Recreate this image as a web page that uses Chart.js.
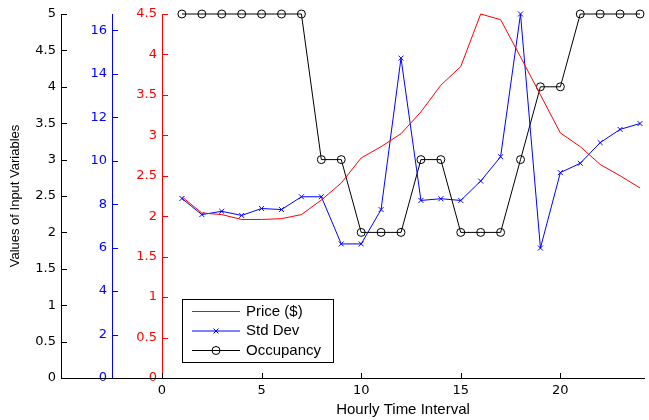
<!DOCTYPE html>
<html>
<head>
<meta charset="utf-8">
<title>Input variables</title>
<script src="https://cdn.jsdelivr.net/npm/chart.js@4.4.0/dist/chart.umd.min.js"></script>
<style>
  body { margin: 0; background: #fff; }
</style>
</head>
<body>
<canvas id="myChart" width="649" height="420"></canvas>
<script>
'use strict';

// data
const hours = [1, 2, 3, 4, 5, 6, 7, 8, 9, 10, 11, 12, 13, 14, 15, 16, 17, 18, 19, 20, 21, 22, 23, 24];
const price = [2.24, 2.04, 2.02, 1.96, 1.96, 1.97, 2.02, 2.2, 2.41, 2.72, 2.86, 3.02, 3.29, 3.62, 3.85, 4.5, 4.43, 3.97, 3.5, 3.03, 2.86, 2.64, 2.5, 2.35];
const stdDev = [8.26, 7.52, 7.67, 7.48, 7.8, 7.75, 8.34, 8.34, 6.17, 6.17, 7.75, 14.72, 8.17, 8.25, 8.17, 9.06, 10.18, 16.75, 5.98, 9.45, 9.88, 10.83, 11.44, 11.71];
const occupancy = [5, 5, 5, 5, 5, 5, 5, 3, 3, 2, 2, 2, 3, 3, 2, 2, 2, 3, 4, 4, 5, 5, 5, 5];

const xTicks = [0, 5, 10, 15, 20];
const occTicks = [0, 0.5, 1, 1.5, 2, 2.5, 3, 3.5, 4, 4.5, 5];
const stdTicks = [0, 2, 4, 6, 8, 10, 12, 14, 16];
const priceTicks = [0, 0.5, 1, 1.5, 2, 2.5, 3, 3.5, 4, 4.5];

const RED = '#ff0000';
const BLUE = '#0000ff';
const tickFont = { family: 'DejaVu Sans', size: 13 };

function points(values) {
  return values.map((v, i) => ({ x: hours[i], y: v }));
}

function fixedTicks(list) {
  return function (s) {
    s.ticks = list.map(v => ({ value: v }));
  };
}

function plainLabel(value) {
  return String(value);
}

function yAxis(color, list, max, width, weight) {
  return {
    type: 'linear',
    position: 'left',
    weight: weight,
    min: 0,
    max: max,
    afterBuildTicks: fixedTicks(list),
    afterFit: s => { s.width = width; },
    grid: { display: true, drawOnChartArea: false, drawTicks: false },
    border: { display: true, color: color, width: 1 },
    ticks: { color: color, font: tickFont, padding: 5, callback: plainLabel }
  };
}

// inward tick marks, the long bottom line and the boxed legend
const axisMarks = {
  id: 'axisMarks',
  afterDraw(chart) {
    const ctx = chart.ctx;
    const area = chart.chartArea;
    ctx.save();
    ctx.lineWidth = 1;

    ['yOcc', 'yStd', 'yPrice'].forEach(id => {
      const s = chart.scales[id];
      ctx.strokeStyle = s.options.border.color;
      s.ticks.forEach(t => {
        const y = Math.round(s.getPixelForValue(t.value)) + 0.5;
        ctx.beginPath();
        ctx.moveTo(s.right, y);
        ctx.lineTo(s.right + 6, y);
        ctx.stroke();
      });
    });

    const sx = chart.scales.x;
    ctx.strokeStyle = '#000';
    sx.ticks.forEach(t => {
      const x = Math.round(sx.getPixelForValue(t.value)) + 0.5;
      ctx.beginPath();
      ctx.moveTo(x, area.bottom);
      ctx.lineTo(x, area.bottom - 5);
      ctx.stroke();
    });
    ctx.beginPath();
    ctx.moveTo(chart.scales.yOcc.right, Math.round(area.bottom) + 0.5);
    ctx.lineTo(area.right, Math.round(area.bottom) + 0.5);
    ctx.stroke();

    // legend
    const lx = 182.5, ly = 299.5, lw = 151, lh = 63;
    ctx.fillStyle = '#fff';
    ctx.fillRect(lx, ly, lw, lh);
    ctx.strokeStyle = '#000';
    ctx.strokeRect(lx, ly, lw, lh);
    ctx.font = '15px "Liberation Sans", Arial, sans-serif';
    ctx.textBaseline = 'middle';
    chart.data.datasets.forEach((ds, i) => {
      const y = 311.5 + i * 19.5;
      ctx.strokeStyle = ds.borderColor;
      ctx.beginPath();
      ctx.moveTo(192, y);
      ctx.lineTo(240, y);
      ctx.stroke();
      if (ds.pointRadius > 0) {
        ctx.fillStyle = 'rgba(0,0,0,0)';
        Chart.helpers.drawPoint(ctx, {
          pointStyle: ds.pointStyle,
          radius: ds.pointRadius,
          borderWidth: 1,
          rotation: 0
        }, 216, y);
      }
      ctx.fillStyle = '#000';
      ctx.fillText(ds.label, 246, y);
    });
    ctx.restore();
  }
};

const ctx = document.getElementById('myChart').getContext('2d');
const myChart = new Chart(ctx, {
  type: 'line',
  data: {
    datasets: [{
      label: 'Price ($)',
      data: points(price),
      yAxisID: 'yPrice',
      borderColor: RED,
      borderWidth: 1,
      pointRadius: 0,
      tension: 0,
      clip: false
    }, {
      label: 'Std Dev',
      data: points(stdDev),
      yAxisID: 'yStd',
      borderColor: BLUE,
      borderWidth: 1,
      pointStyle: 'crossRot',
      pointRadius: 3.5,
      pointBorderWidth: 1,
      pointBorderColor: BLUE,
      tension: 0,
      clip: false
    }, {
      label: 'Occupancy',
      data: points(occupancy),
      yAxisID: 'yOcc',
      borderColor: '#000',
      borderWidth: 1,
      pointStyle: 'circle',
      pointRadius: 4,
      pointBorderWidth: 1,
      pointBorderColor: '#000',
      pointBackgroundColor: 'rgba(0,0,0,0)',
      tension: 0,
      clip: false
    }]
  },
  options: {
    responsive: false,
    animation: false,
    events: [],
    layout: { padding: { top: 14, right: 2, bottom: 0, left: 0 } },
    plugins: { legend: { display: false }, tooltip: { enabled: false } },
    scales: {
      x: {
        type: 'linear',
        min: 0,
        max: 24.2,
        afterBuildTicks: fixedTicks(xTicks),
        afterFit: s => { s.height = 42; },
        grid: { display: true, drawOnChartArea: false, drawTicks: false },
        border: { display: true, color: '#000', width: 1 },
        ticks: { color: '#000', font: tickFont, padding: 5, maxRotation: 0, callback: plainLabel },
        title: {
          display: true,
          text: 'Hourly Time Interval',
          color: '#000',
          font: { family: 'Liberation Sans', size: 15 },
          padding: { top: 0, bottom: 1 }
        }
      },
      yOcc: Object.assign(yAxis('#000', occTicks, 5, 61, 2), {
        title: {
          display: true,
          text: 'Values of Input Variables',
          color: '#000',
          font: { family: 'Liberation Sans', size: 13 },
          padding: { top: 8, bottom: 0 }
        }
      }),
      yStd: yAxis(BLUE, stdTicks, 16.75, 51, 1),
      yPrice: yAxis(RED, priceTicks, 4.5, 50, 0)
    }
  },
  plugins: [axisMarks]
});
</script>
</body>
</html>
